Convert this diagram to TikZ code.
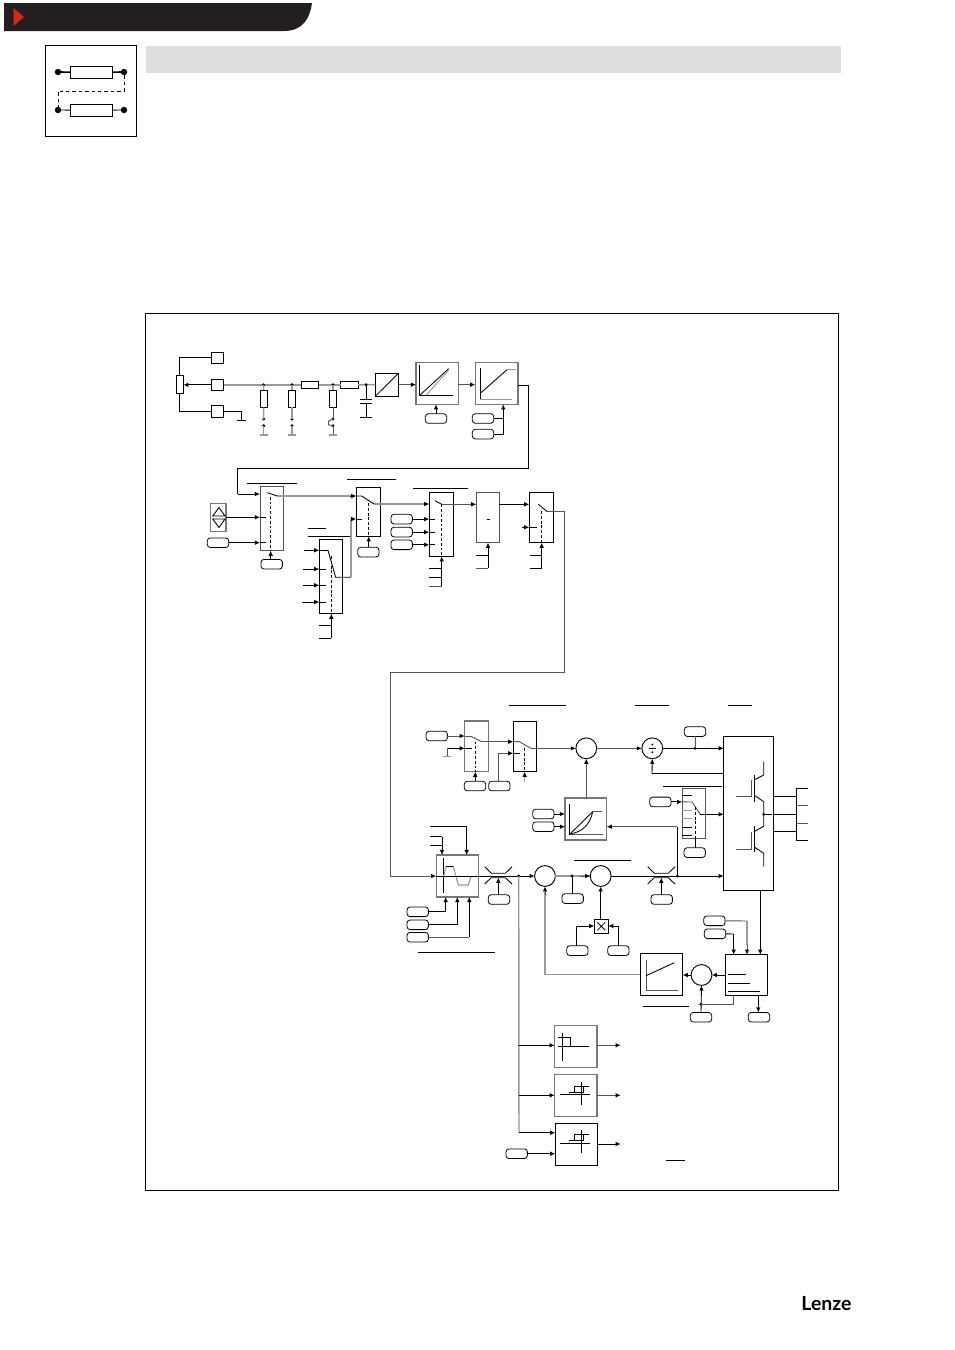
\documentclass[tikz,border=0pt]{standalone}
\usepackage{fontspec}
\setmainfont{Liberation Sans}
\newfontfamily\logofont{Lato}
\usetikzlibrary{arrows.meta,calc}
\definecolor{hdr}{HTML}{231F20}
\definecolor{redt}{HTML}{D9251C}
\definecolor{barg}{HTML}{DEDEDE}
\definecolor{gl}{HTML}{999999}
\definecolor{ml}{HTML}{555555}
\definecolor{bl}{HTML}{777777}
\tikzset{
  w/.style={line width=0.65pt,draw=black},
  g/.style={line width=1.1pt,draw=gl},
  m/.style={line width=0.7pt,draw=ml},
  ar/.style={w,-{Latex[length=3.8pt,width=3.4pt,color=black]}},
  arg/.style={m,-{Latex[length=3.8pt,width=3.4pt,color=black]}},
  das/.style={line width=0.65pt,draw=black,dash pattern=on 2.2pt off 1.4pt},
  bxs/.style={draw=black,line width=0.7pt,rectangle,inner sep=0pt,outer sep=0pt},
  gb/.style={draw=bl,line width=0.85pt},
  pills/.style={draw=black,line width=0.6pt,rectangle,rounded corners=2.2pt,inner sep=0pt,outer sep=0pt,minimum width=16pt,minimum height=7.2pt},
  cirs/.style={draw=black,line width=0.7pt,circle,inner sep=0pt,outer sep=0pt,minimum size=15.6pt},
  dotn/.style={fill=black,circle,inner sep=0pt,outer sep=0pt,minimum size=2.4pt},
  bigdot/.style={fill=black,circle,inner sep=0pt,outer sep=0pt,minimum size=4.8pt},
  bar/.style={line width=0.7pt,draw=black}
}
\newcommand\mybx[6][]{\node[bxs,#1,minimum width={(#5-#3)*0.75pt},minimum height={(#6-#4)*0.75pt}] (#2) at ({(#3+#5)/2},{(#4+#6)/2}) {};}
\newcommand\mypl[3]{\node[pills] (#1) at ({#2+10.7},{#3+4.8}) {};}
\newcommand\mycir[3]{\node[cirs] (#1) at (#2,#3) {};}
\newcommand\mydot[3]{\node[dotn] (#1) at (#2,#3) {};}
% arrow from a source to the west side of a box at the source's height, with a stub going on inside
\newcommand\myinp[3]{\draw[ar] (#1) -- (#2.west |- #1); \draw[w] (#2.west |- #1) -- ++(#3,0);}
\newcommand\limsym[2]{\draw[w] (#1-13.7,#2-9.3) -- ++(6.7,6.6) -- ++(14,0) -- ++(6.7,-6.6) (#1-13.7,#2+8) -- ++(6.7,-6.3) -- ++(14,0) -- ++(6.7,6.3);}
\begin{document}
\begin{tikzpicture}[x=0.75pt,y=-0.75pt]
\useasboundingbox (0,0) rectangle (954,1350);
\fill[white] (0,0) rectangle (954,1350);
% ---------- header
\fill[hdr] (4,3) -- (312,3) .. controls (310,18) and (303,31) .. (284,31) -- (4,31) -- cycle;
\fill[redt] (13.5,8) -- (24,17) -- (13.5,26) -- cycle;
\fill[barg] (146,46) rectangle (841,73);
% ---------- icon
\mybx[line width=0.9pt]{ic}{45.5}{45.5}{136.5}{136.5}
\mybx{icr1}{70.3}{66.3}{112.7}{78.3}
\mybx{icr2}{70.3}{104.3}{112.7}{116.3}
\node[bigdot] (icd1) at (58,72) {};
\node[bigdot] (icd2) at (124,72) {};
\node[bigdot] (icd3) at (58,110) {};
\node[bigdot] (icd4) at (124,110) {};
\draw[line width=1.2pt] (icd1) -- (icr1);
\draw[line width=1.2pt] (icr1) -- (icd2);
\draw[w] (icd3) -- (icr2);
\draw[w] (icr2) -- (icd4);
\coordinate (icc1) at (124,91);
\coordinate (icc2) at (58,91);
\draw[line width=0.65pt,dash pattern=on 2.6pt off 2.2pt] (icd2) -- (icc1) -- (icc2) -- (icd3);
% ---------- frame
\mybx{frame}{145.5}{313}{838.5}{1190.5}
% ---------- input terminals
\mybx{t1}{211.3}{352.3}{223.7}{363.3}
\mybx{t2}{211.3}{379.3}{223.7}{390.3}
\mybx{t3}{211.3}{405.3}{223.7}{417.3}
\mybx{pot}{176.3}{375.3}{183.3}{393.3}
\draw[w] (pot.north) |- (t1.west);
\draw[w] (pot.south) |- (t3.west);
\draw[ar] (t2.west) -- (pot.east |- t2.west);
\coordinate (gt3) at (241.3,420.3);
\draw[w] (t3.east) -| (gt3);
\draw[bar] (237,420.3) -- (245.7,420.3);
% ---------- input network
\mybx{rh1}{301.3}{381.3}{318.7}{388.3}
\mybx{rh2}{340.7}{381.3}{358}{388.3}
\mybx{rv1}{260}{390.3}{267.3}{407.3}
\mybx{rv2}{288.3}{390.3}{295.7}{407.3}
\mybx{rv3}{329.3}{390.3}{336.7}{407.3}
\mybx{conv}{375.3}{373}{398.7}{396.3}
\draw[w] (conv.south west) -- (conv.north east);
\draw[g] (t2.east) -- (rh1.west);
\draw[g] (rh1.east) -- (rh2.west);
\draw[g] (rh2.east) -- (conv.west);
\mydot{j1}{263.7}{384.8}\mydot{j2}{292}{384.8}\mydot{j3}{333}{384.8}\mydot{j4}{366}{384.8}
\draw[g] (j1.center) -- (rv1.north);
\draw[g] (j2.center) -- (rv2.north);
\draw[g] (j3.center) -- (rv3.north);
\mydot{a1}{263.7}{419}\mydot{b1}{263.7}{425.7}
\mydot{a2}{292}{419}\mydot{b2}{292}{425.7}
\mydot{a3}{333}{419}\mydot{b3}{333}{425.7}
\coordinate (g1) at (263.7,435);\coordinate (g2) at (292,435);\coordinate (g3) at (333,435);
\draw[g] (rv1.south) -- (a1.center);\draw[g] (b1.center) -- (g1);
\draw[g] (rv2.south) -- (a2.center);\draw[g] (b2.center) -- (g2);
\draw[m] (rv3.south) -- (a3.center);\draw[m] (b3.center) -- (g3);
\draw[g] (259.7,435) -- (267.7,435);
\draw[g] (288,435) -- (296,435);
\draw[g] (329,435) -- (337,435);
\draw[m] (a3.center) -- (328.7,421) -- (328.7,425) -- (b3.center);
% capacitor
\coordinate (cp1) at (366,399.3);\coordinate (cp2) at (366,403.3);\coordinate (cp3) at (366,417);
\draw[w] (j4.center) -- (cp1);\draw[w] (cp2) -- (cp3);
\draw[bar] (360,399.3) -- (372,399.3);
\draw[bar] (360,403.3) -- (372,403.3);
\draw[bar] (360,417) -- (372,417);
% ---------- characteristic blocks
\mybx[gb]{ch1}{416}{362.7}{458.3}{404.3}
\mybx[gb]{ch2}{475.3}{362.7}{518}{404.3}
\draw[arg] (conv.east) -- (ch1.west |- conv.east);
\draw[arg] (ch1.east |- conv.east) -- (ch2.west |- conv.east);
\draw[w] (419.3,365.3) -- (419.3,395.3) -- (453,395.3);
\draw[w] (419.7,395.3) -- (448.7,368.7);
\draw[g,line width=0.7pt] (426,395.3) -- (448.7,370);
\draw[w] (480.3,368.3) -- (480.3,400);
\draw[g,line width=0.8pt] (480.3,399.5) -- (511.7,399.5);
\draw[w] (481,392.7) -- (507,369.7);
\draw[g] (507,369.7) -- (515.7,369.7);
\mypl{pc1}{425.3}{413.7}
\draw[ar] (pc1.north) -- (pc1.north |- ch1.south);
\mypl{pc2}{472.3}{413.7}
\mypl{pc3}{472.3}{429.3}
\coordinate (pc4) at (503.3,425);
\draw[w] (pc2.east) -| (pc4);
\draw[w] (pc3.east) -| (pc4);
\draw[ar] (pc4) -- (pc4 |- ch2.south);
% ---------- switch row
\coordinate (o0) at (518,385);\coordinate (o1) at (528.3,385);\coordinate (o2) at (528.3,468.3);
\coordinate (o3) at (237.7,468.3);\coordinate (o4) at (237.7,494);
\mybx[draw=ml]{s1}{260}{486.7}{283.3}{550.7}
\draw[w] (o0) -- (o1) -- (o2) -- (o3) -- (o4);
\draw[ar] (o4) -- (s1.west |- o4);
\draw[bar] (247.3,483.7) -- (296.7,483.7);
\mybx[gb]{updn}{210.7}{503.3}{226}{531.3}
\draw[w] (219,507.5) -- (212.7,516) -- (225,516) -- cycle;
\draw[w] (212.7,519) -- (225,519) -- (219,527.5) -- cycle;
\mypl{ps1}{207.3}{537.9}
\draw[ar] (updn.east) -- (s1.west |- updn.east);
\draw[ar] (ps1.east) -- (s1.west |- ps1.east);
\draw[w] (s1.west |- updn.east) -- ++(6,0);
\draw[w] (s1.west |- ps1.east) -- ++(6,0);
\mypl{ps2}{261}{559.4}
\coordinate (sw1a) at (267.3,492.7);\coordinate (sw1b) at (277.3,496);
\draw[w] (sw1a) -- (sw1b);
\draw[das] (270.7,496.7) -- (270.7,550.7);
\draw[ar] (ps2.north -| 270.7,0) -- (270.7,550.7);
% switch 2
\mybx{s2}{356.3}{487.3}{380.3}{536.3}
\draw[bar] (347.3,479.3) -- (396,479.3);
\draw[g] (sw1b) -- (355,496);
\draw[ar] (350,496) -- (s2.west |- sw1b);
\coordinate (sw2a) at (361.7,496);\coordinate (sw2b) at (374,504);
\draw[w] (s2.west |- sw2a) -- (sw2a) -- (sw2b);
\draw[das] (368.7,503) -- (368.7,536.3);
\mypl{ps3}{357.7}{547.3}
\draw[ar] (ps3.north -| 368.7,0) -- (368.7,536.3);
% switch 3 (selector)
\mybx{s3}{319.3}{539.3}{342.7}{613.7}
\draw[bar] (308,528.3) -- (326,528.3);
\draw[bar] (308,536.3) -- (351,536.3);
\coordinate (i1) at (304,550.3);\coordinate (i2) at (303,569);\coordinate (i3) at (302.7,585.3);\coordinate (i4) at (302,602);
\myinp{i1}{s3}{9}\myinp{i2}{s3}{7}\myinp{i3}{s3}{7}\myinp{i4}{s3}{7}
\coordinate (sw3b) at (335.7,577.3);\coordinate (sw3c) at (351,577.3);\coordinate (sw3d) at (351,519);
\draw[w] (328,550.3) -- (sw3b) -- (sw3c);
\draw[g] (sw3c) -- (sw3d);
\draw[ar] (sw3d) -- (s2.west |- sw3d);
\draw[w] (s2.west |- sw3d) -- ++(5.4,0);
\draw[das] (331.3,556) -- (331.3,613.7);
\coordinate (s3f) at (331.3,638.3);
\draw[ar] (s3f) -- (s3f |- s3.south);
\draw[w] (319,625.7) -- (331.3,625.7);
\draw[w] (319,638.3) -- (331.3,638.3);
% switch 4
\mybx{s4}{429.3}{492.3}{453.7}{556.3}
\draw[bar] (413,488.7) -- (467.7,488.7);
\mypl{p41}{391}{514.3}\mypl{p42}{391}{527.3}\mypl{p43}{391}{540}
\draw[g] (sw2b) -- (424,504);
\coordinate (s4i) at (424,504);
\draw[ar] (s4i) -- (s4.west |- s4i);
\myinp{p41.east}{s4}{6}\myinp{p42.east}{s4}{6}\myinp{p43.east}{s4}{6}
\coordinate (sw4a) at (435,500.7);\coordinate (sw4b) at (441.7,504.3);
\draw[w] (sw4a) -- (sw4b);
\draw[das] (441.7,504.3) -- (441.7,556.3);
\coordinate (s4f) at (441.7,586.7);
\draw[ar] (s4f) -- (s4f |- s4.south);
\draw[w] (429.3,568.3) -- (441.7,568.3);
\draw[w] (429.3,577) -- (441.7,577);
\draw[m] (429.3,586.7) -- (441.7,586.7);
% box 5
\mybx[draw=ml]{s5}{476.3}{492.3}{499.3}{542.7}
\draw[arg] (sw4b) -- (s5.west |- sw4b);
\draw[w] (486.7,519.3) -- (490.3,519.3);
\coordinate (s5f) at (488,568);
\draw[ar] (s5f) -- (s5f |- s5.south);
\draw[w] (476.3,555.3) -- (488,555.3);
\draw[m] (476.3,568) -- (488,568);
% switch 6
\mybx{s6}{529.3}{492.3}{553.3}{542.7}
\draw[ar] (s5.east |- sw4b) -- (s6.west |- sw4b);
\coordinate (sw6a) at (538.3,504.3);\coordinate (sw6b) at (547.3,511.7);
\draw[w] (sw6a) -- (sw6b);
\coordinate (s6i) at (522.3,527.3);
\draw[ar] (s6i) -- (s6.west |- s6i);
\draw[w] (s6.west |- s6i) -- ++(7.4,0);
\draw[das] (541.7,511) -- (541.7,542.7);
\coordinate (s6f) at (541.7,568.3);
\draw[ar] (s6f) -- (s6f |- s6.south);
\draw[w] (530.3,555.3) -- (541.7,555.3);
\draw[w] (530.3,568.3) -- (541.7,568.3);
% long wire to the filter
\coordinate (l1) at (564.7,511.7);\coordinate (l2) at (564.7,672);\coordinate (l3) at (390,672);\coordinate (l4) at (390,876);
\mybx[gb]{flt}{436.3}{855}{478.7}{897}
\draw[m] (sw6b) -- (l1) -- (l2) -- (l3) -- (l4);
\draw[arg] (l4) -- (flt.west);
% ---------- speed setpoint switches
\draw[bar] (509.3,705.3) -- (566,705.3);
\mybx[gb]{sa}{464.7}{721}{488.7}{771.7}
\mybx{sb}{513.3}{721}{536.7}{771.7}
\mycir{sum1}{586.3}{748.3}
\mypl{pa}{426}{731.2}
\draw[arg] (pa.east) -- (sa.west |- pa.east);
\draw[m] (sa.west |- pa.east) -- ++(7,0);
\coordinate (ag) at (447,748.3);\coordinate (ag2) at (447,756.7);
\draw[ar] (ag) -- (sa.west |- ag);
\draw[w] (sa.west |- ag) -- ++(7,0);
\draw[m] (ag) -- (ag2);
\draw[g] (443.3,756.7) -- (450.7,756.7);
\coordinate (swaa) at (471.7,736.7);\coordinate (swab) at (481.7,741.7);
\draw[m] (swaa) -- (swab);
\draw[arg] (swab) -- (sb.west |- swab);
\coordinate (swba) at (519.3,741.7);\coordinate (swbb) at (531,748.3);
\draw[m] (sb.west |- swba) -- (swba) -- (swbb);
\draw[arg] (swbb) -- (sum1.west);
\mypl{pb1}{464.3}{781.2}\mypl{pb2}{488.7}{781.2}
\draw[das] (475.3,741.5) -- (475.3,771.7);
\draw[das] (524.7,748) -- (524.7,771.7);
\draw[ar] (pb1.north -| 475.3,0) -- (475.3,771.7);
\coordinate (bi) at (498.3,753.3);
\draw[m] (pb2.north -| bi) -- (bi);
\draw[arg] (bi) -- (sb.west |- bi);
\draw[w] (sb.west |- bi) -- ++(6.7,0);
\coordinate (bf) at (524.7,782.3);
\draw[arg,draw=gl] (bf) -- (bf |- sb.south);
% curve block
\mybx[gb]{cu}{565}{798}{606.7}{840}
\draw[arg] (cu.north -| sum1.south) -- (sum1.south);
\draw[w] (569.7,804.3) -- (569.7,835);
\draw[m] (569.7,834.3) -- (602.7,834.3);
\draw[w] (570,834) -- (592.7,811.7);
\draw[m] (592.7,811.7) -- (602.3,811.7);
\draw[w] (570,834) .. controls (582,832) and (590,825) .. (592.7,811.7);
\mypl{pu1}{532.7}{809.2}\mypl{pu2}{532.7}{821.9}
\draw[ar] (pu1.east) -- (cu.west |- pu1.east);
\draw[ar] (pu2.east) -- (cu.west |- pu2.east);
% ---------- divider and inverter
\draw[bar] (635,705.3) -- (668.7,705.3);
\draw[bar] (728.3,705.3) -- (751.7,705.3);
\draw[bar] (663.3,786) -- (721.7,786);
\mycir{dv}{652.3}{748.3}
\fill (652.3,744.5) circle[radius=1];
\fill (652.3,752.2) circle[radius=1];
\draw[w] (648.8,748.3) -- (655.8,748.3);
\mybx{inv}{723.7}{736.7}{773.3}{890}
\draw[arg] (sum1.east) -- (dv.west);
\draw[ar] (dv.east) -- (inv.west |- dv.east);
\mydot{jd}{695}{748.3}
\mypl{pd}{684.3}{726.8}
\draw[m] (pd.south) -- (jd.center);
\coordinate (fb1) at (652,773.3);
\draw[w] (inv.west |- fb1) -- (fb1);
\draw[ar] (fb1) -- (dv.south);
% selector before the inverter
\mybx[draw=ml]{sel}{682.3}{788.3}{705.3}{838.7}
\mypl{pe1}{649.7}{797.1}\mypl{pe2}{684}{847.8}
\draw[ar] (pe1.east) -- (sel.west |- pe1.east);
\draw[w] (682.3,795) -- (692,795);
\draw[m] (sel.west |- pe1.east) -- (692,802);
\draw[g] (682.3,810.7) -- (692,810.7);
\draw[g] (682.3,818.7) -- (692,818.7);
\draw[w] (682.3,827) -- (692,827);
\draw[w] (682.3,835) -- (692,835);
\coordinate (swc) at (700.3,814.3);
\draw[m] (692,802) -- (swc);
\draw[ar] (swc) -- (inv.west |- swc);
\draw[das] (695.3,807) -- (695.3,838.7);
\draw[w] (pe2.north -| 695.3,0) -- (695.3,838.7);
% IGBTs
\draw[line width=1.1pt,draw=gl] (754.3,775) -- (754.3,801.7);
\draw[w] (754,775) -- (754,801.7);
\draw[m] (735.7,796) -- (751,796) -- (751,780);
\draw[w] (754,780) -- (763.7,775) -- (763.7,761.7);
\draw[w] (754,795) -- (763.7,801.7) -- (763.7,814.3);
\draw[line width=1.1pt,draw=gl] (754.3,826) -- (754.3,851.7);
\draw[w] (754,826) -- (754,851.7);
\draw[m] (736.3,849) -- (751,849) -- (751,831.7);
\draw[w] (754,831.7) -- (763.7,826.3) -- (763.7,814.3);
\draw[w] (754,846.7) -- (763.7,853.3) -- (763.7,866.7);
\mydot{igj}{763.7}{814.3}
\coordinate (igo) at (771.7,814.3);
\draw[w] (igj.center) -- (igo);
% output terminal block
\coordinate (tb1) at (808.3,788.7);\coordinate (tb2) at (796.7,788.7);\coordinate (tb3) at (796.7,840.3);\coordinate (tb4) at (808.3,840.3);
\draw[w] (tb1) -- (tb2) -- (tb3) -- (tb4);
\draw[m] (796.7,805.3) -- (808.3,805.3);
\draw[m] (796.7,823) -- (808.3,823);
\draw[w] (inv.east |- 0,796.3) -- (tb2 |- 0,796.3);
\draw[w] (inv.east |- 0,814.3) -- (tb2 |- 0,814.3);
\draw[w] (inv.east |- 0,831.7) -- (tb2 |- 0,831.7);
% ---------- filter block and main line
\draw[w] (443.7,858.3) -- (443.7,892.7);
\draw[g,line width=0.8pt] (443.7,876) -- (446,866.7) -- (453.3,866.7) -- (458.3,885) -- (468.3,885) -- (471.3,876);
\draw[w] (446,866.7) -- (453.3,866.7);
\coordinate (fa) at (442,836.7);\coordinate (fb) at (466.7,826.3);
\draw[w] (430,836.7) -- (442,836.7);
\draw[w] (430,845.3) -- (442,845.3);
\draw[ar] (fa) -- (fa |- flt.north);
\draw[w] (430,826.3) -- (fb);
\draw[ar] (fb) -- (fb |- flt.north);
\mypl{pf1}{407}{907}\mypl{pf2}{407}{920}\mypl{pf3}{407}{932.4}
\coordinate (ff1) at (445.7,911.8);\coordinate (ff2) at (457.3,924.8);\coordinate (ff3) at (469.3,937.2);
\draw[w] (pf1.east) -- (ff1);\draw[ar] (ff1) -- (ff1 |- flt.south);
\draw[w] (pf2.east) -- (ff2);\draw[ar] (ff2) -- (ff2 |- flt.south);
\draw[m] (pf3.east) -- (ff3);\draw[ar] (ff3) -- (ff3 |- flt.south);
\draw[bar] (418,952.3) -- (495,952.3);
\mycir{sum2}{545}{876}\mycir{sum3}{600.7}{876}
\draw[ar] (flt.west) -- (sum2.west);
\limsym{498.3}{876}
\mypl{pl1}{488.3}{894.7}
\coordinate (l1t) at (498.3,877.7);
\draw[ar] (pl1.north -| l1t) -- (l1t);
\mydot{jv}{518.7}{876}
\draw[g] (sum2.east) -- (sum3.west);
\draw[arg] (580,876) -- (sum3.west);
\mydot{jp}{572}{876}
\mypl{pp}{562}{893.8}
\draw[w] (jp.center) -- (pp.north -| jp);
\draw[bar] (574.3,860.7) -- (631,860.7);
\draw[ar] (sum3.east) -- (inv.west |- sum3.east);
\limsym{661.3}{876}
\mypl{pl2}{651}{894.7}
\coordinate (l2t) at (661.3,877.7);
\draw[ar] (pl2.north -| l2t) -- (l2t);
\mydot{jcu}{677.3}{876}
\coordinate (cf) at (677.3,826.7);
\draw[w] (jcu.center) -- (cf);
\draw[arg] (cf) -- (cu.east |- cf);
% multiplier
\mybx{mul}{594.3}{919.3}{608.3}{933.3}
\draw[w] (597.3,922.3) -- (605.3,930.3) (605.3,922.3) -- (597.3,930.3);
\draw[ar] (mul.north -| sum3.south) -- (sum3.south);
\mypl{pm1}{566.7}{945.8}\mypl{pm2}{607.7}{945.8}
\coordinate (mc1) at (576.7,926);\coordinate (mc2) at (618.7,926);
\draw[w] (pm1.north -| mc1) -- (mc1);
\draw[ar] (mc1) -- (mul.west |- mc1);
\draw[w] (pm2.north -| mc2) -- (mc2);
\draw[ar] (mc2) -- (mul.east |- mc2);
% ---------- feedback
\mybx{vf}{640.3}{953.3}{682.7}{995.7}
\draw[m] (646,960) -- (646,990);
\draw[m] (646,990) -- (677.7,990);
\draw[w] (646,975.7) -- (674.3,962.7);
\coordinate (vb) at (545,974.5);
\draw[g] (vf.west |- vb) -- (vb) -- (545,892);
\draw[arg] (545,895) -- (sum2.south);
\mycir{sum4}{701.5}{975}
\mybx{mon}{725.7}{954.7}{767.3}{995.7}
\draw[ar] (sum4.west) -- (vf.east |- sum4.west);
\draw[ar] (mon.west |- sum4.east) -- (sum4.east);
\draw[w] (728,974.3) -- (746,974.3);
\draw[w] (728,983.3) -- (750,983.3);
\draw[w] (728,991.3) -- (760,991.3);
\mypl{pq1}{690.3}{1012.4}\mypl{pq2}{748.3}{1012.4}
\mydot{jq}{701}{1004.3}
\draw[ar] (pq1.north -| jq) -- (sum4.south);
\coordinate (mq) at (733.7,1004.3);
\draw[m] (mq |- mon.south) -- (mq) -- (jq.center);
\draw[ar] (mon.south -| 758.3,0) -- (pq2.north -| 758.3,0);
\draw[bar] (643,1006.7) -- (689,1006.7);
\mypl{pr1}{703.7}{916}\mypl{pr2}{704.3}{929}
\coordinate (rc1) at (747,921);\coordinate (rc2) at (733.7,934);
\draw[m] (pr1.east) -- (rc1);
\draw[g] (rc1) -- (747,945);
\draw[arg] (747,945) -- (rc1 |- mon.north);
\draw[w] (pr2.east) -- (rc2);
\draw[ar] (rc2) -- (rc2 |- mon.north);
\draw[ar] (inv.south -| 760.3,0) -- (mon.north -| 760.3,0);
% ---------- comparators
\mybx[gb]{c1}{554.7}{1025.7}{597}{1067.7}
\mybx[gb]{c2}{554.7}{1074.7}{597}{1116.7}
\mybx{c3}{555.3}{1123.3}{597.7}{1165.7}
\coordinate (vv) at (519,1132.7);
\draw[g] (jv.center) -- (vv);
\coordinate (v1) at (519,1045.3);\coordinate (v2) at (519,1095.3);
\draw[ar] (v1) -- (c1.west |- v1);
\draw[ar] (v2) -- (c2.west |- v2);
\draw[ar] (vv) -- (c3.west |- vv);
\mypl{pc}{506}{1148.9}
\draw[ar] (pc.east) -- (c3.west |- pc.east);
\coordinate (o1c) at (620.7,1045.3);\coordinate (o2c) at (620.7,1095.3);\coordinate (o3c) at (620.7,1144);
\draw[arg] (c1.east |- o1c) -- (o1c);
\draw[arg] (c2.east |- o2c) -- (o2c);
\draw[ar] (c3.east |- o3c) -- (o3c);
\draw[w] (562.7,1033.3) -- (562.7,1060.7);
\draw[w] (558.3,1046.3) -- (589,1046.3);
\draw[w] (558.3,1037.3) -- (570.7,1037.3) -- (570.7,1046.3);
\draw[w] (581.3,1082.3) -- (581.3,1105);
\draw[w] (560,1094.3) -- (590,1094.3);
\draw[w] (569,1092.3) -- (583.3,1092.3) -- (583.3,1086.3);
\draw[w] (574,1092.3) -- (574,1086.3) -- (589,1086.3);
\draw[w] (581.3,1130.3) -- (581.3,1153);
\draw[w] (560,1143) -- (590,1143);
\draw[w] (569,1140.3) -- (583.3,1140.3) -- (583.3,1134.3);
\draw[w] (574,1140.3) -- (574,1134.3) -- (589,1134.3);
\draw[bar] (666.3,1160.3) -- (685,1160.3);
% ---------- logo
\node[inner sep=0pt,font=\logofont\bfseries\fontsize{14.6pt}{16pt}\selectfont] (logo) at (826.5,1304) {Lenze};
\end{tikzpicture}
\end{document}
